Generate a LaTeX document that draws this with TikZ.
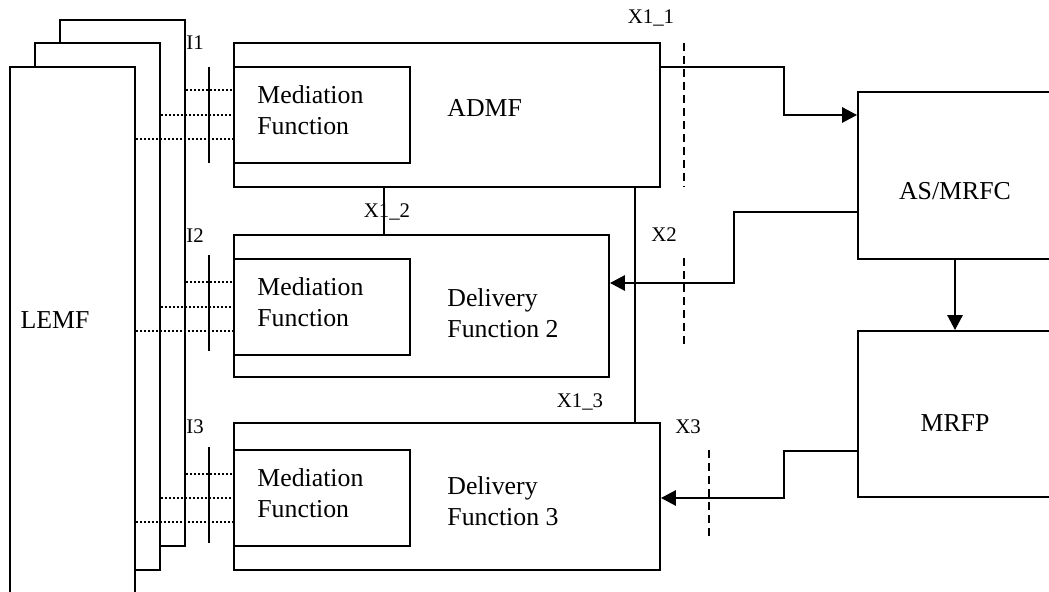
\documentclass[tikz,border=0pt]{standalone}
\usepackage{fontspec}
\setmainfont{Liberation Serif}
\usetikzlibrary{arrows.meta}

\begin{document}
\begin{tikzpicture}[x=0.5pt,y=-0.5pt,
    box/.style={draw,line width=0.9pt,fill=white,inner sep=0pt},
    big/.style={font=\fontsize{12.9}{15.5}\selectfont,inner sep=0pt,align=left},
    small/.style={font=\fontsize{10.4}{12}\selectfont,inner sep=0pt},
    sig/.style={line width=1.4pt,-{Triangle[length=7.5pt,width=7.5pt]}},
    iface/.style={line width=1.2pt,dash pattern=on 1.2pt off 0.8pt},
    cut/.style={line width=0.7pt,dash pattern=on 4pt off 2.5pt},
    tick/.style={line width=0.8pt}]
  \clip (0,0) rectangle (1049,592);
  % LEMF stack
  \node[box,minimum width=62.5pt,minimum height=263pt] (lemfa) at (122.5,283) {};
  \node[box,minimum width=62.5pt,minimum height=263.5pt] (lemfb) at (97.5,306.5) {};
  \node[box,minimum width=62.5pt,minimum height=266.5pt] (lemfc) at (72.5,333.5) {};
  \node[big] (lemftxt) at (55,320) {LEMF};
  % ADMF and delivery functions
  \node[box,minimum width=213pt,minimum height=72pt] (admf) at (447,115) {};
  \node[box,minimum width=187.5pt,minimum height=71pt] (df2) at (421.5,306) {};
  \node[box,minimum width=213pt,minimum height=73.5pt] (df3) at (447,496.5) {};
  \node[box,minimum width=88pt,minimum height=48pt] (med1) at (322,115) {};
  \node[box,minimum width=88pt,minimum height=48pt] (med2) at (322,307) {};
  \node[box,minimum width=88pt,minimum height=48pt] (med3) at (322,498) {};
  \node[big,anchor=west] (med1txt) at (257,110) {Mediation\\Function};
  \node[big,anchor=west] (med2txt) at (257,302) {Mediation\\Function};
  \node[big,anchor=west] (med3txt) at (257,493) {Mediation\\Function};
  \node[big,anchor=west] (admftxt) at (447,108) {ADMF};
  \node[big,anchor=west] (df2txt) at (447,313) {Delivery\\Function 2};
  \node[big,anchor=west] (df3txt) at (447,501) {Delivery\\Function 3};
  % network side
  \node[box,minimum width=97pt,minimum height=83.5pt] (asmrfc) at (955,175.5) {};
  \node[box,minimum width=97pt,minimum height=83pt] (mrfp) at (955,414) {};
  \node[big] (asmrfctxt) at (955,191) {AS/MRFC};
  \node[big] (mrfptxt) at (955,423) {MRFP};
  % handover interfaces I1, I2, I3
  \foreach \y/\src in {90/lemfa,115/lemfb,139/lemfc}
    \draw[iface] (\src.east |- 0,\y) -- (med1.west |- 0,\y);
  \foreach \y/\src in {282/lemfa,307/lemfb,331/lemfc}
    \draw[iface] (\src.east |- 0,\y) -- (med2.west |- 0,\y);
  \foreach \y/\src in {474/lemfa,498/lemfb,522/lemfc}
    \draw[iface] (\src.east |- 0,\y) -- (med3.west |- 0,\y);
  \draw[tick] (209,67) -- (209,163);
  \draw[tick] (209,255) -- (209,351);
  \draw[tick] (209,447) -- (209,543);
  \node[small] (i1) at (195,43) {I1};
  \node[small] (i2) at (195,236) {I2};
  \node[small] (i3) at (195,427) {I3};
  % internal interfaces X1_2, X1_3
  \draw[tick] (admf.south -| 384,0) -- (df2.north -| 384,0);
  \draw[tick] (admf.south -| 635,0) -- (df3.north -| 635,0);
  \node[small] (x12) at (387,212) {X1\_2};
  \node[small] (x13) at (580,402) {X1\_3};
  % X1_1, X2, X3 towards the network
  \draw[sig] (admf.east |- 0,67) -| (784,115) -- (asmrfc.west |- 0,115);
  \draw[sig] (asmrfc.west |- 0,212) -| (734,283) -- (df2.east |- 0,283);
  \draw[sig] (mrfp.west |- 0,451) -| (784,498) -- (df3.east |- 0,498);
  \draw[sig] (asmrfc.south) -- (mrfp.north);
  \draw[cut] (684,43) -- (684,187);
  \draw[cut] (684,258) -- (684,348);
  \draw[cut] (709,450) -- (709,540);
  \node[small] (x11) at (651,18) {X1\_1};
  \node[small] (x2) at (664,235) {X2};
  \node[small] (x3) at (688,427) {X3};
\end{tikzpicture}
\end{document}
